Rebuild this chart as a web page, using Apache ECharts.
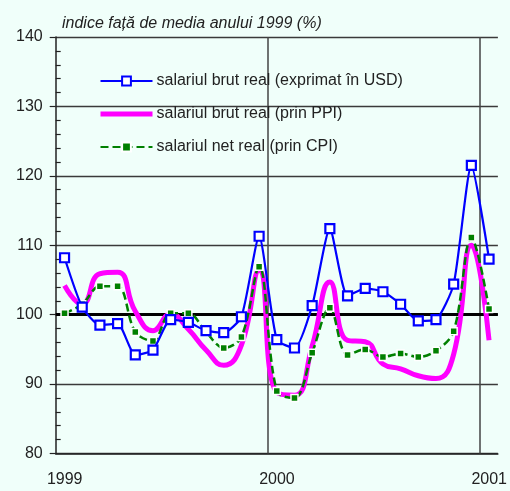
<!DOCTYPE html>
<html>
<head>
<meta charset="utf-8">
<script src="https://cdn.jsdelivr.net/npm/echarts@6/dist/echarts.min.js"></script>
<style>
html,body{margin:0;padding:0;background:#F0FFFA;}
#c{width:510px;height:491px;}
</style>
</head>
<body>
<div id="c"></div>
<script>
// Monthly data, Jan 1999 .. Jan 2001
const yearLabels = {0: '1999', 12: '2000', 24: '2001'};
const yearBoundaries = [12, 24];
const seriesNames = [
  'salariul brut real (exprimat în USD)',
  'salariul brut real (prin PPI)',
  'salariul net real (prin CPI)'
];
const brutUSD = [108.2, 101.1, 98.5, 98.7, 94.2, 94.9, 99.3, 98.9, 97.7, 97.4, 99.7, 111.3,
                 96.4, 95.2, 101.3, 112.4, 102.7, 103.8, 103.3, 101.5, 99.1, 99.3, 104.4, 121.5,
                 108.0];
const brutPPI = [104.2, 101.5, 105.9, 106.1, 100.5, 97.7, 100.1, 97.9, 94.9, 92.7, 95.6, 106.4,
                 88.8, 88.4, 95.5, 104.7, 96.3, 96.1, 92.9, 92.2, 91.2, 90.8, 94.3, 110.0,
                 96.3];
const netCPI = [100.2, 101.5, 104.1, 104.1, 97.5, 96.2, 100.2, 100.2, 97.5, 95.2, 96.8, 106.9,
                89.0, 88.0, 94.5, 101.0, 94.2, 95.0, 93.9, 94.4, 93.9, 94.8, 97.6, 111.1,
                100.8];
const baseLevel = 100;
const titleText = 'indice față de media anului 1999 (%)';

const toXY = arr => arr.map((v, i) => [i + 0.5, v]);
const FONT = 'Liberation Sans';
const chart = echarts.init(document.getElementById('c'), null, {renderer: 'canvas'});
chart.setOption({
  backgroundColor: '#F0FFFA',
  animation: false,
  title: {
    text: titleText, left: 57, top: 11,
    textStyle: {fontFamily: FONT, fontSize: 16, fontStyle: 'italic', fontWeight: 'normal', color: '#222'}
  },
  legend: {
    orient: 'vertical', left: 93, top: 68,
    itemWidth: 52, itemHeight: 11, itemGap: 17,
    textStyle: {fontFamily: FONT, fontSize: 16, color: '#222', padding: [0, 0, 0, -1]},
    data: [
      {name: seriesNames[0]},
      {name: seriesNames[1], itemStyle: {opacity: 0}, lineStyle: {width: 5}},
      {name: seriesNames[2], itemStyle: {borderColor: '#FFFFFF', borderWidth: 2}}
    ]
  },
  grid: {left: 55.7, right: 9.8, top: 37, bottom: 37.5},
  xAxis: {
    type: 'value', min: 0, max: 25, interval: 12,
    axisLine: {show: true, lineStyle: {color: '#222', width: 1.5}},
    axisTick: {show: false},
    splitLine: {show: false},
    axisLabel: {
      fontFamily: FONT, fontSize: 16, color: '#222', margin: 18,
      padding: [0, 0, 0, 18],
      formatter: v => yearLabels[v] || ''
    }
  },
  yAxis: [{
    type: 'value', min: 80, max: 140, interval: 10,
    axisLine: {show: true, lineStyle: {color: '#222', width: 1.5}},
    axisTick: {show: true, length: 6, lineStyle: {color: '#222', width: 1.2}},
    axisLabel: {fontFamily: FONT, fontSize: 16, color: '#222', margin: 13},
    splitLine: {show: true, lineStyle: {color: '#3a3a3a', width: 1.3}}
  }, {
    type: 'value', min: 80, max: 140, interval: 10, position: 'left', offset: -5,
    axisLine: {show: false},
    axisTick: {show: false},
    minorTick: {show: true, splitNumber: 5, length: 5, lineStyle: {color: '#222', width: 1.2}},
    axisLabel: {show: false},
    splitLine: {show: false}
  }],
  series: [{
    name: seriesNames[0], type: 'line', z: 4, smooth: 0.2,
    data: toXY(brutUSD),
    symbol: 'rect', symbolSize: 9, showAllSymbol: true,
    lineStyle: {color: '#0000FF', width: 2.2},
    itemStyle: {color: '#FFFFFF', borderColor: '#0000FF', borderWidth: 2.2}
  }, {
    name: seriesNames[1], type: 'line', z: 2, smooth: 0.5,
    data: toXY(brutPPI),
    symbol: 'none',
    lineStyle: {color: '#FF00FF', width: 5},
    itemStyle: {color: '#FF00FF'},
    markLine: {
      silent: true, symbol: 'none', label: {show: false}, z: 1,
      data: [
        ...yearBoundaries.map(x => ({xAxis: x, lineStyle: {color: '#444', width: 1.5, type: 'solid'}})),
        {yAxis: baseLevel, lineStyle: {color: '#000', width: 3, type: 'solid'}}
      ]
    }
  }, {
    name: seriesNames[2], type: 'line', z: 3, smooth: 0.35,
    data: toXY(netCPI),
    symbol: 'rect', symbolSize: 7, showAllSymbol: true,
    lineStyle: {color: '#008000', width: 2.5, type: [8, 4]},
    itemStyle: {color: '#008000', borderColor: '#FFFFFF', borderWidth: 1.5}
  }]
});
</script>
</body>
</html>
